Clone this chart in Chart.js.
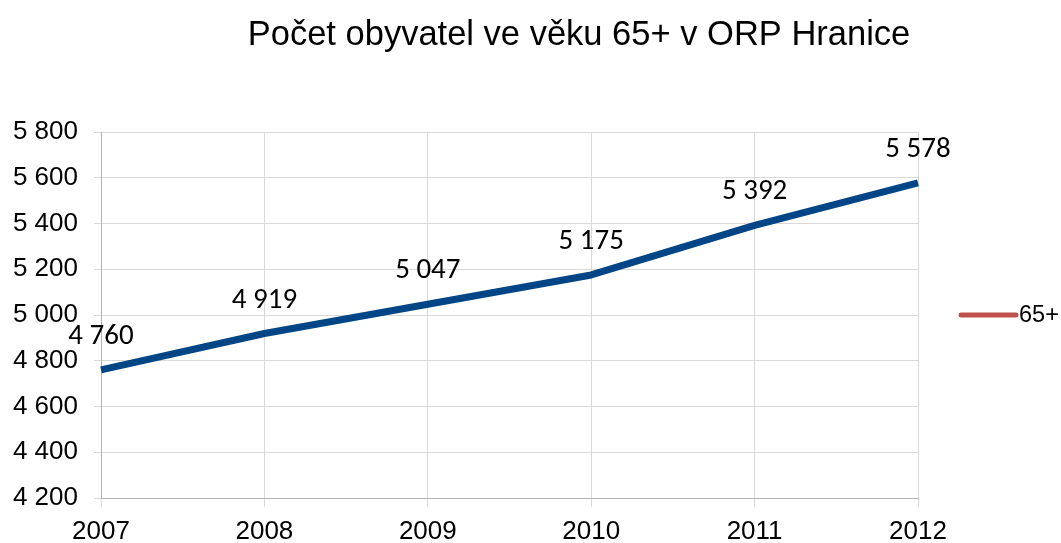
<!DOCTYPE html>
<html>
<head>
<meta charset="utf-8">
<script src="https://cdn.jsdelivr.net/npm/chart.js@4/dist/chart.umd.min.js"></script>
<style>
  body { margin: 0; background: #fff; }
</style>
</head>
<body>
<canvas id="chart" width="1061" height="543"></canvas>
<script>
const years = ["2007", "2008", "2009", "2010", "2011", "2012"];
const seniors = [4760, 4919, 5047, 5175, 5392, 5578];
const seriesName = "65+";
const chartTitle = "Počet obyvatel ve věku 65+ v ORP Hranice";

const SANS = "\"Liberation Sans\", Arial, sans-serif";

// "5800" -> "5 800"
const fmt = (v) => String(v).replace(/\B(?=(\d{3})+(?!\d))/g, " ");

// title + legend drawn by hand so they sit where the original has them
const extras = {
	id: "extras",
	afterDraw(chart) {
		const ctx = chart.ctx;
		const area = chart.chartArea;
		ctx.save();
		ctx.fillStyle = "#000";
		ctx.font = "34.5px " + SANS;
		ctx.textAlign = "center";
		ctx.textBaseline = "alphabetic";
		ctx.fillText(chartTitle, 579, 45);

		const midY = (area.top + area.bottom) / 2;
		ctx.strokeStyle = "#c0504d";
		ctx.lineWidth = 5;
		ctx.lineCap = "round";
		ctx.beginPath();
		ctx.moveTo(area.right + 43, midY);
		ctx.lineTo(area.right + 98, midY);
		ctx.stroke();
		ctx.font = "23.5px " + SANS;
		ctx.textAlign = "left";
		ctx.textBaseline = "middle";
		ctx.fillText(seriesName, area.right + 101, midY + 1);
		ctx.restore();
	},
	afterDatasetsDraw(chart) {
		const ctx = chart.ctx;
		const meta = chart.getDatasetMeta(0);
		ctx.save();
		ctx.fillStyle = "#000";
		ctx.font = "29px Carlito, Lato, sans-serif";
		ctx.textAlign = "center";
		ctx.textBaseline = "alphabetic";
		meta.data.forEach((pt, i) => {
			ctx.fillText(fmt(seniors[i]), pt.x, pt.y - 26);
		});
		ctx.restore();
	},
};

new Chart(document.getElementById("chart"), {
	type: "line",
	data: {
		labels: years,
		datasets: [
			{
				label: seriesName,
				data: seniors,
				borderColor: "#004586",
				backgroundColor: "#004586",
				borderWidth: 7,
				borderJoinStyle: "round",
				pointRadius: 0,
				tension: 0,
			},
		],
	},
	options: {
		responsive: false,
		animation: false,
		layout: {
			padding: { top: 132, right: 143, left: 0, bottom: 0 },
		},
		plugins: {
			legend: { display: false },
			title: { display: false },
			tooltip: { enabled: false },
		},
		scales: {
			x: {
				offset: false,
				grid: { color: "#d9d9d9", tickLength: 9 },
				border: { color: "#b3b3b3" },
				ticks: {
					color: "#000",
					font: { family: SANS, size: 26 },
					padding: 9,
					maxRotation: 0,
				},
				afterFit(scale) {
					scale.height = 45;
				},
			},
			y: {
				min: 4200,
				max: 5800,
				grid: { color: "#d9d9d9", tickLength: 7 },
				border: { color: "#b3b3b3" },
				ticks: {
					stepSize: 200,
					color: "#000",
					font: { family: SANS, size: 26 },
					padding: 16,
					callback: (v) => fmt(v),
				},
				afterFit(scale) {
					scale.width = 101;
				},
			},
		},
	},
	plugins: [extras],
});
</script>
</body>
</html>
